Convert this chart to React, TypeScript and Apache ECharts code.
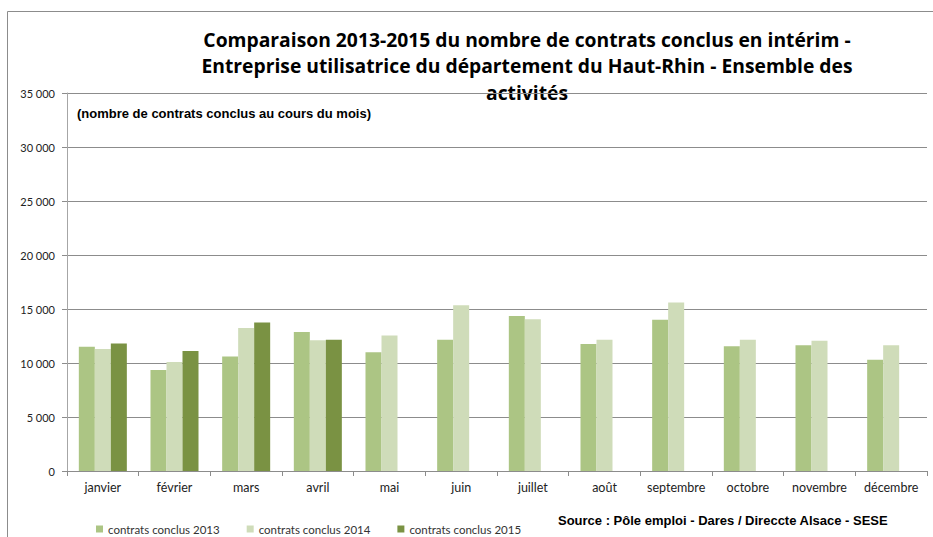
import React, { useEffect, useRef } from "react";
import * as echarts from "echarts";

const months = ["janvier", "février", "mars", "avril", "mai", "juin", "juillet", "août", "septembre", "octobre", "novembre", "décembre"];
const contrats2013 = [11500, 9350, 10600, 12870, 11000, 12150, 14350, 11750, 14000, 11550, 11650, 10300];
const contrats2014 = [11300, 10100, 13250, 12100, 12550, 15350, 14050, 12150, 15600, 12150, 12050, 11650];
const contrats2015 = [11800, 11100, 13750, 12150, null, null, null, null, null, null, null, null];
const seriesNames = ["contrats conclus 2013", "contrats conclus 2014", "contrats conclus 2015"];
const seriesColors = ["#acc584", "#cfdcb9", "#7a9243"];

const titleLines = [
  "Comparaison 2013-2015 du nombre de contrats conclus en intérim -",
  "Entreprise utilisatrice du département du Haut-Rhin - Ensemble des",
  "activités",
];
const subtitle = "(nombre de contrats conclus au cours du mois)";
const sourceText = "Source : Pôle emploi - Dares / Direccte Alsace - SESE";

const fmt = (v: number) => {
  const s = String(Math.round(v));
  return s.replace(/\B(?=(\d{3})+(?!\d))/g, " ");
};

export default function App() {
  const ref = useRef<HTMLDivElement>(null);
  useEffect(() => {
    if (!ref.current) return;
    const chart = echarts.init(ref.current, null, { renderer: "svg" });
    const data = [contrats2013, contrats2014, contrats2015];
    chart.setOption({
      animation: false,
      backgroundColor: "#ffffff",
      textStyle: { fontFamily: "Lato" },
      grid: { left: 67, right: 6, top: 93, bottom: 66, containLabel: false },
      legend: {
        left: 96,
        top: 523,
        padding: 0,
        itemWidth: 7,
        itemHeight: 7,
        itemGap: 27,
        icon: "rect",
        textStyle: { fontFamily: "Lato", fontSize: 11.5, lineHeight: 11, color: "#333" },
        data: seriesNames,
      },
      xAxis: {
        type: "category",
        data: months,
        axisLine: { show: true, lineStyle: { color: "#8c8c8c" } },
        axisTick: { show: true, length: 5, interval: 0, lineStyle: { color: "#8c8c8c" } },
        axisLabel: { fontFamily: "Lato", fontSize: 12.5, color: "#222", margin: 10, interval: 0 },
      },
      yAxis: {
        type: "value",
        min: 0,
        max: 35000,
        interval: 5000,
        axisLine: { show: true, lineStyle: { color: "#a6a6a6" } },
        axisTick: { show: true, length: 5, lineStyle: { color: "#8c8c8c" } },
        axisLabel: { fontFamily: "Lato", fontSize: 11, color: "#222", margin: 12, formatter: (v: number) => fmt(v) },
        splitLine: { show: true, lineStyle: { color: "#8c8c8c", width: 1 } },
      },
      series: seriesNames.map((name, i) => ({
        name,
        type: "bar",
        data: data[i],
        barGap: "0%",
        barCategoryGap: "33%",
        itemStyle: { color: seriesColors[i] },
      })),
      graphic: [
        { type: "line", shape: { x1: 7.5, y1: 11.5, x2: 933, y2: 11.5 }, style: { stroke: "#8c8c8c", lineWidth: 1 } },
        { type: "line", shape: { x1: 7.5, y1: 11.5, x2: 7.5, y2: 537 }, style: { stroke: "#8c8c8c", lineWidth: 1 } },
        ...titleLines.map((t, i) => ({
          type: "text",
          x: 527,
          y: 39 + i * 26.5,
          style: {
            text: t,
            fontFamily: "Open Sans",
            fontWeight: "bold",
            fontSize: 19.3,
            fill: "#000",
            align: "center",
            verticalAlign: "middle",
          },
        })),
        {
          type: "text",
          x: 77,
          y: 113,
          style: { text: subtitle, fontFamily: "Liberation Sans", fontWeight: "bold", fontSize: 13, fill: "#000", verticalAlign: "middle" },
        },
        {
          type: "text",
          x: 558,
          y: 520,
          style: { text: sourceText, fontFamily: "Liberation Sans", fontWeight: "bold", fontSize: 13, fill: "#000", verticalAlign: "middle" },
        },
      ],
    });
    return () => chart.dispose();
  }, []);
  return <div ref={ref} style={{ position: "fixed", left: 0, top: 0, width: 933, height: 537 }} />;
}
